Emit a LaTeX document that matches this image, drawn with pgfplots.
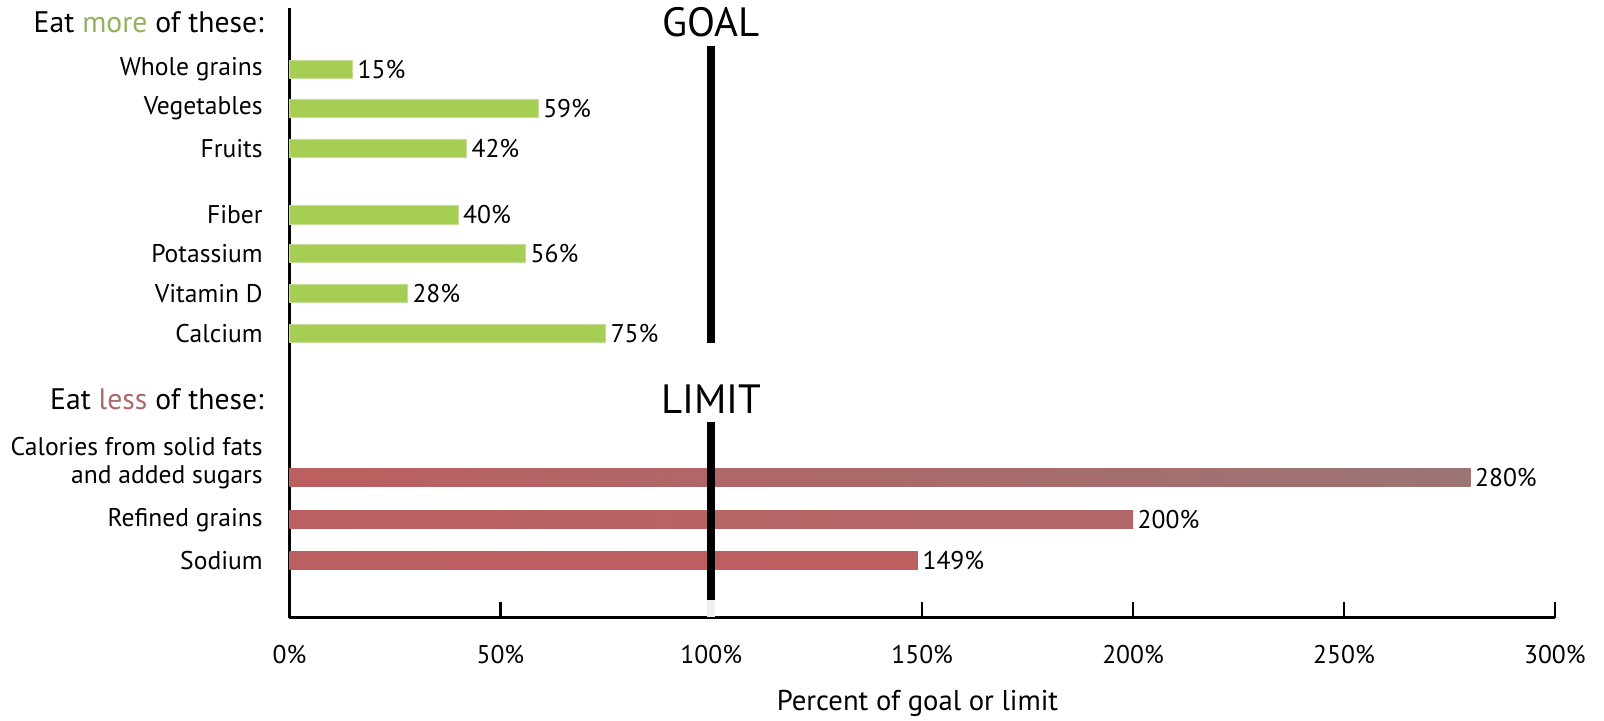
\documentclass[border=0pt]{standalone}
\usepackage{fontspec}
\setmainfont{PT Sans}
\usepackage{pgfplots}
\pgfplotsset{compat=1.18}
\definecolor{barg}{HTML}{A6CE55}
\definecolor{bargedge}{HTML}{C4DE98}
\definecolor{moreg}{HTML}{8FB35E}
\definecolor{lessr}{HTML}{A86B6B}
\definecolor{redA}{HTML}{BC5F60}
\definecolor{redB}{HTML}{C05A5B}
\definecolor{redC}{HTML}{9B7474}
\definecolor{redD}{HTML}{B26868}
\definecolor{redE}{HTML}{BE5F60}
\newcommand{\lab}{\fontsize{25bp}{29bp}\selectfont}
\begin{document}
\begin{tikzpicture}
\begin{axis}[
  scale only axis, width=1237bp, height=596bp,
  xmin=0, xmax=300, ymin=8, ymax=604, y dir=reverse,
  axis x line*=bottom, axis y line*=left,
  axis line style={line width=3bp, black},
  /pgf/number format/assume math mode=true,
  xtick={0,50,150,200,250,300},
  extra x ticks={100}, extra x tick labels={100\%},
  extra x tick style={major tick length=0pt},
  xticklabel={\pgfmathprintnumber{\tick}\%},
  xtick align=inside, ytick align=inside,
  xtick pos=bottom, ytick pos=left,
  major tick length=16bp,
  xtick style={line width=2.5bp, black},
  xticklabel style={font=\lab, anchor=center, yshift=-36bp},
  ytick={68,106,145,210,248,287,326,437,467,508,548},
  yticklabels={Whole grains,Vegetables,Fruits,Fiber,Potassium,Vitamin D,Calcium,Calories from solid fats,and added sugars,Refined grains,Sodium},
  ytick style={draw=none},
  yticklabel style={font=\lab, anchor=east, inner sep=0pt, xshift=-26bp},
  clip=false,
  nodes near coords={\pgfmathprintnumber{\pgfplotspointmeta}\%},
  point meta=x,
  every node near coord/.append style={anchor=west, xshift=1bp, text=black, font=\lab},
]
\path (axis cs:-68.63,0) rectangle (axis cs:311.64,703);
\addplot[xbar, bar width=18, fill=barg, draw=bargedge, line width=1bp]
  coordinates {(15,68) (59,106) (42,145) (40,210) (56,248) (28,287) (75,326)};
\addplot[xbar, bar width=18, draw=none, shading=axis, shading angle=90, left color=redA, middle color=redB, right color=redC]
  coordinates {(280,467)};
\addplot[xbar, bar width=18, draw=none, shading=axis, shading angle=90, left color=redA, middle color=redB, right color=redD]
  coordinates {(200,508)};
\addplot[xbar, bar width=18, draw=none, shading=axis, shading angle=90, left color=redA, middle color=redB, right color=redE]
  coordinates {(149,548)};
\fill[black!6] (axis cs:99.03,587) rectangle (axis cs:100.97,603);
\draw[line width=8bp, black] (axis cs:100,45) -- (axis cs:100,335);
\draw[line width=8bp, black] (axis cs:100,413) -- (axis cs:100,587);
\node[font=\fontsize{40bp}{44bp}\selectfont] at (axis cs:100,22) {GOAL};
\node[font=\fontsize{40bp}{44bp}\selectfont] at (axis cs:100,390) {LIMIT};
\node[font=\fontsize{29bp}{33bp}\selectfont, anchor=east, inner sep=0pt] at (axis cs:-6.06,22) {Eat \textcolor{moreg}{more} of these:};
\node[font=\fontsize{29bp}{33bp}\selectfont, anchor=east, inner sep=0pt] at (axis cs:-6.06,390) {Eat \textcolor{lessr}{less} of these:};
\node[font=\fontsize{28bp}{32bp}\selectfont] at (axis cs:148.9,688) {Percent of goal or limit};
\end{axis}
\end{tikzpicture}
\end{document}
